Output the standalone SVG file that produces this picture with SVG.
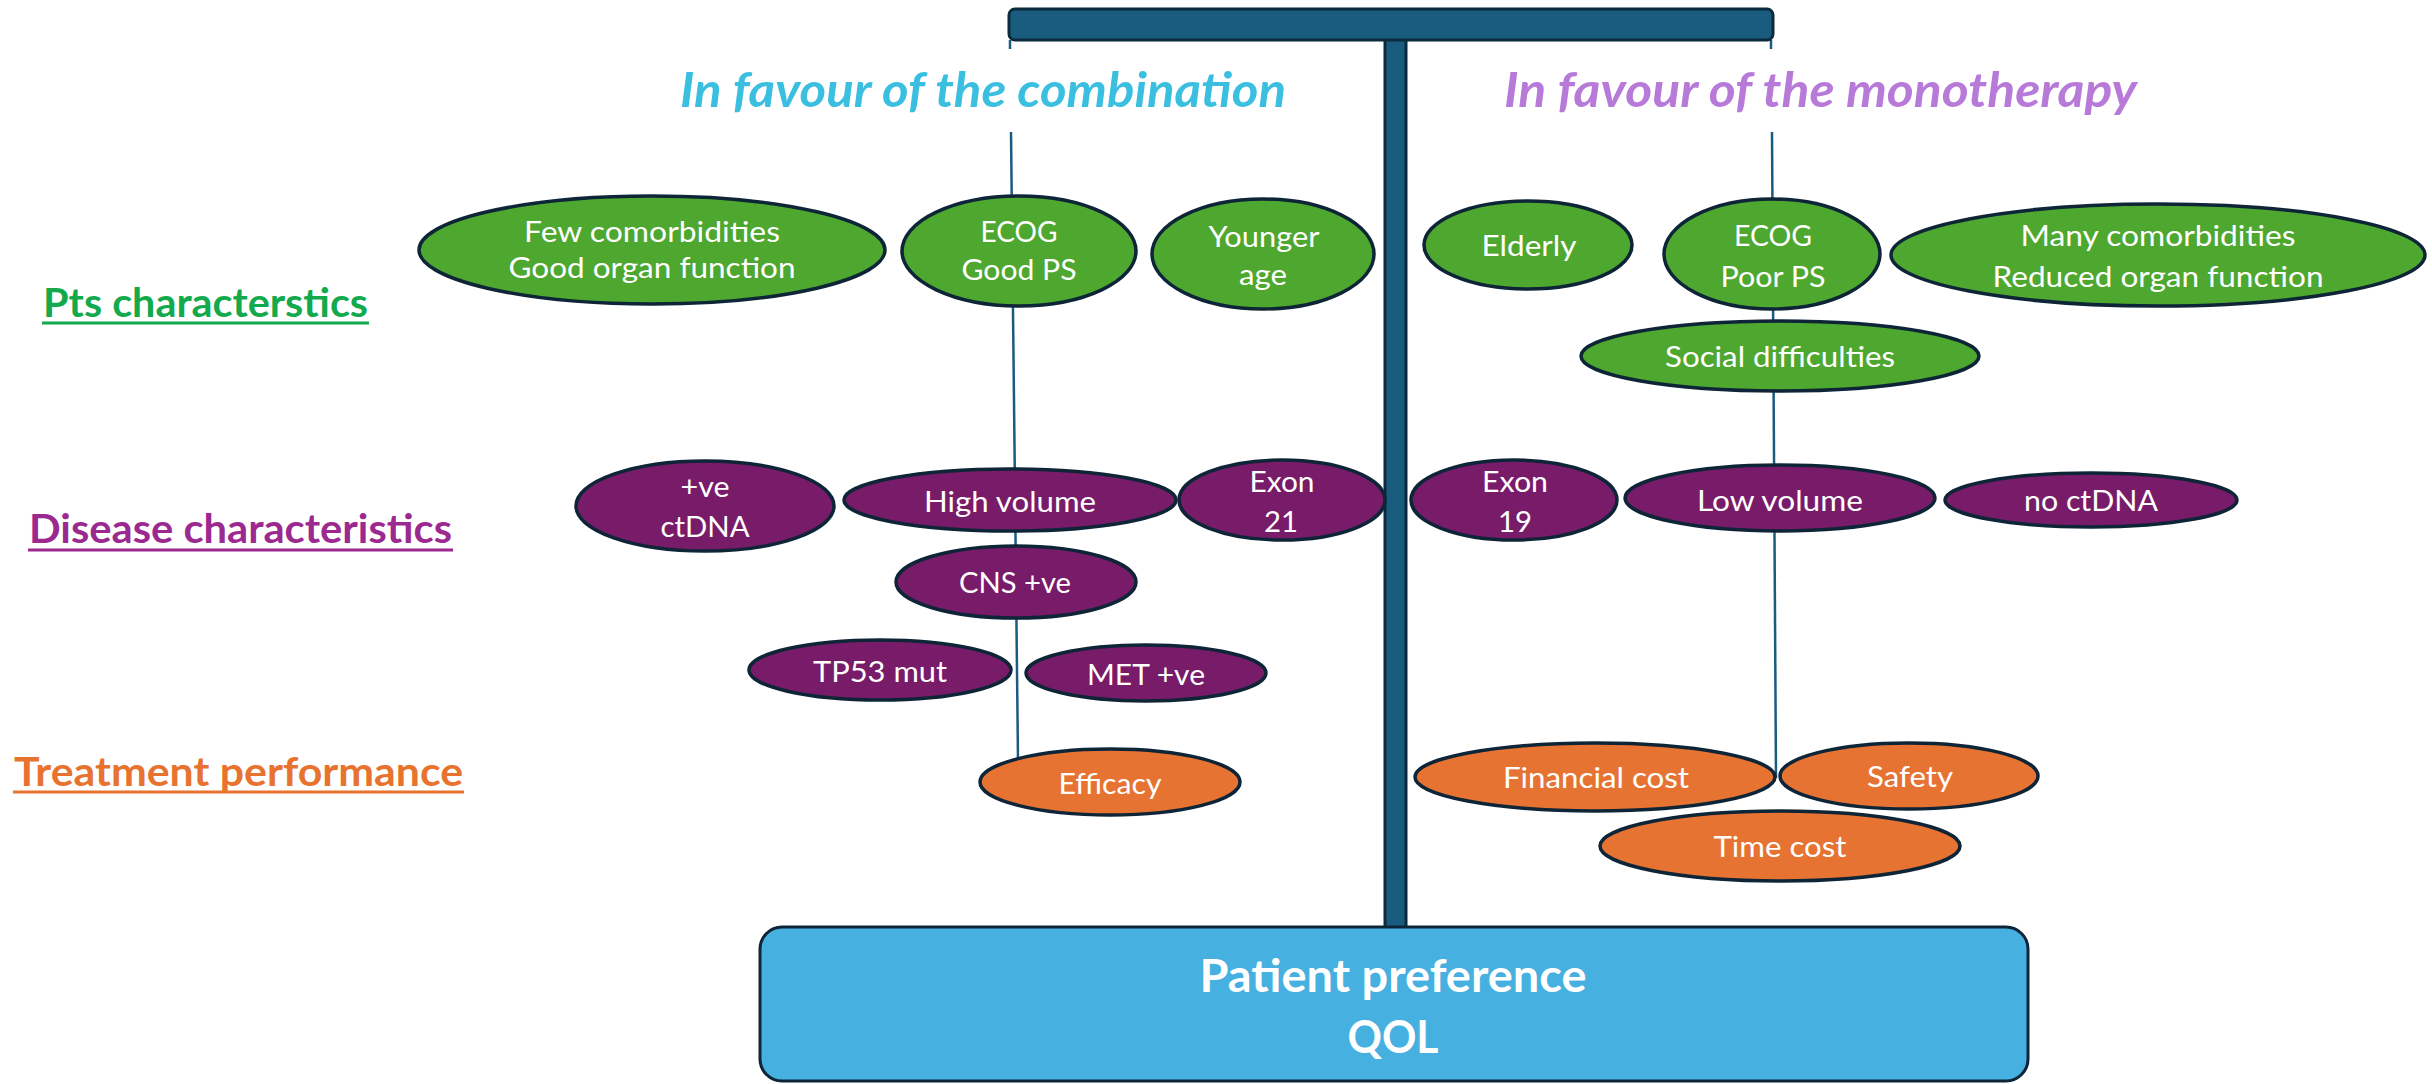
<svg xmlns="http://www.w3.org/2000/svg" width="2432" height="1084" viewBox="0 0 2432 1084">
<style>
.bg{fill:#ffffff}
.hang{stroke:#1a5b80;stroke-width:2.5;fill:none}
.beam{fill:#1a5b80;stroke:#0b2a3c;stroke-width:3}
.nd{stroke:#0e2538;stroke-width:3.5}
.g{fill:#4ea72e}
.p{fill:#781b68}
.o{fill:#e77332}
.t{font-family:Lato,"Open Sans","Liberation Sans",sans-serif;font-size:29px;fill:#ffffff;text-anchor:middle}
.title{font-family:Lato,"Open Sans","Liberation Sans",sans-serif;font-size:47px;font-weight:bold;font-style:italic}
.sec{font-family:Lato,"Open Sans","Liberation Sans",sans-serif;font-size:41px;font-weight:bold}
.big{font-family:Lato,"Open Sans","Liberation Sans",sans-serif;font-size:46px;font-weight:bold;fill:#ffffff;text-anchor:middle}
</style>
<rect class="bg" x="0" y="0" width="2432" height="1084"/>

<g id="connectors">
  <line class="hang" x1="1010" y1="40" x2="1010" y2="49"/>
  <line class="hang" x1="1011" y1="132" x2="1018" y2="760"/>
  <line class="hang" x1="1771" y1="40" x2="1771" y2="49"/>
  <line class="hang" x1="1772" y1="132" x2="1776" y2="778"/>
</g>

<g id="scale">
  <rect class="beam" x="1385" y="38" width="21" height="890"/>
  <rect class="beam" x="1009" y="9" width="764" height="31" rx="6"/>
</g>

<g id="titles">
  <text class="title" x="680" y="107" fill="#3bbfe0" textLength="606" lengthAdjust="spacingAndGlyphs">In favour of the combination</text>
  <text class="title" x="1504" y="107" fill="#b87ad8" textLength="633" lengthAdjust="spacingAndGlyphs">In favour of the monotherapy</text>
</g>

<g id="sections">
  <text class="sec" x="43" y="317" fill="#12aa4c" textLength="325" lengthAdjust="spacingAndGlyphs">Pts characterstics</text>
  <line x1="42" y1="323" x2="369" y2="323" stroke="#12aa4c" stroke-width="3"/>
  <text class="sec" x="29" y="543" fill="#9b2990" textLength="423" lengthAdjust="spacingAndGlyphs">Disease characteristics</text>
  <line x1="28" y1="550" x2="453" y2="550" stroke="#9b2990" stroke-width="3"/>
  <text class="sec" x="14" y="786" fill="#e8732f" textLength="449" lengthAdjust="spacingAndGlyphs">Treatment performance</text>
  <line x1="13" y1="792" x2="464" y2="792" stroke="#e8732f" stroke-width="3"/>
</g>

<g id="few-comorbidities">
  <ellipse class="nd g" cx="652" cy="250" rx="233" ry="54"/>
  <text class="t" x="652" y="242" textLength="256" lengthAdjust="spacingAndGlyphs">Few comorbidities</text>
  <text class="t" x="652" y="278" textLength="287" lengthAdjust="spacingAndGlyphs">Good organ function</text>
</g>
<g id="ecog-good">
  <ellipse class="nd g" cx="1019" cy="251" rx="117" ry="55"/>
  <text class="t" x="1019" y="242" textLength="77" lengthAdjust="spacingAndGlyphs">ECOG</text>
  <text class="t" x="1019" y="280" textLength="115" lengthAdjust="spacingAndGlyphs">Good PS</text>
</g>
<g id="younger-age">
  <ellipse class="nd g" cx="1263" cy="254" rx="111" ry="55"/>
  <text class="t" x="1264" y="247" textLength="111" lengthAdjust="spacingAndGlyphs">Younger</text>
  <text class="t" x="1263" y="285" textLength="48" lengthAdjust="spacingAndGlyphs">age</text>
</g>
<g id="elderly">
  <ellipse class="nd g" cx="1528" cy="245" rx="104" ry="44"/>
  <text class="t" x="1529" y="256" textLength="95" lengthAdjust="spacingAndGlyphs">Elderly</text>
</g>
<g id="ecog-poor">
  <ellipse class="nd g" cx="1772" cy="254" rx="108" ry="55"/>
  <text class="t" x="1773" y="246" textLength="78" lengthAdjust="spacingAndGlyphs">ECOG</text>
  <text class="t" x="1773" y="287" textLength="105" lengthAdjust="spacingAndGlyphs">Poor PS</text>
</g>
<g id="many-comorbidities">
  <ellipse class="nd g" cx="2158" cy="255" rx="267" ry="51"/>
  <text class="t" x="2158" y="246" textLength="275" lengthAdjust="spacingAndGlyphs">Many comorbidities</text>
  <text class="t" x="2158" y="287" textLength="331" lengthAdjust="spacingAndGlyphs">Reduced organ function</text>
</g>
<g id="social-difficulties">
  <ellipse class="nd g" cx="1780" cy="356" rx="199" ry="35"/>
  <text class="t" x="1780" y="367" textLength="230" lengthAdjust="spacingAndGlyphs">Social difficulties</text>
</g>

<g id="ve-ctdna">
  <ellipse class="nd p" cx="705" cy="506" rx="129" ry="45"/>
  <text class="t" x="705" y="497" textLength="49" lengthAdjust="spacingAndGlyphs">+ve</text>
  <text class="t" x="705" y="537" textLength="89" lengthAdjust="spacingAndGlyphs">ctDNA</text>
</g>
<g id="high-volume">
  <ellipse class="nd p" cx="1010" cy="500" rx="166" ry="31"/>
  <text class="t" x="1010" y="512" textLength="172" lengthAdjust="spacingAndGlyphs">High volume</text>
</g>
<g id="exon-21">
  <ellipse class="nd p" cx="1282" cy="500" rx="103" ry="40"/>
  <text class="t" x="1282" y="492" textLength="65" lengthAdjust="spacingAndGlyphs">Exon</text>
  <text class="t" x="1281" y="532" textLength="34" lengthAdjust="spacingAndGlyphs">21</text>
</g>
<g id="cns">
  <ellipse class="nd p" cx="1016" cy="582" rx="120" ry="36"/>
  <text class="t" x="1015" y="593" textLength="112" lengthAdjust="spacingAndGlyphs">CNS +ve</text>
</g>
<g id="tp53">
  <ellipse class="nd p" cx="880" cy="670" rx="131" ry="30"/>
  <text class="t" x="880" y="682" textLength="134" lengthAdjust="spacingAndGlyphs">TP53 mut</text>
</g>
<g id="met">
  <ellipse class="nd p" cx="1146" cy="673" rx="120" ry="28"/>
  <text class="t" x="1146" y="685" textLength="118" lengthAdjust="spacingAndGlyphs">MET +ve</text>
</g>
<g id="exon-19">
  <ellipse class="nd p" cx="1514" cy="500" rx="103" ry="40"/>
  <text class="t" x="1515" y="492" textLength="66" lengthAdjust="spacingAndGlyphs">Exon</text>
  <text class="t" x="1515" y="532" textLength="34" lengthAdjust="spacingAndGlyphs">19</text>
</g>
<g id="low-volume">
  <ellipse class="nd p" cx="1780" cy="498" rx="155" ry="33"/>
  <text class="t" x="1780" y="511" textLength="166" lengthAdjust="spacingAndGlyphs">Low volume</text>
</g>
<g id="no-ctdna">
  <ellipse class="nd p" cx="2091" cy="500" rx="146" ry="27"/>
  <text class="t" x="2091" y="511" textLength="134" lengthAdjust="spacingAndGlyphs">no ctDNA</text>
</g>

<g id="efficacy">
  <ellipse class="nd o" cx="1110" cy="782" rx="130" ry="33"/>
  <text class="t" x="1110" y="794" textLength="103" lengthAdjust="spacingAndGlyphs">Efficacy</text>
</g>
<g id="financial-cost">
  <ellipse class="nd o" cx="1595" cy="777" rx="180" ry="34"/>
  <text class="t" x="1596" y="788" textLength="186" lengthAdjust="spacingAndGlyphs">Financial cost</text>
</g>
<g id="safety">
  <ellipse class="nd o" cx="1909" cy="776" rx="129" ry="33"/>
  <text class="t" x="1910" y="787" textLength="86" lengthAdjust="spacingAndGlyphs">Safety</text>
</g>
<g id="time-cost">
  <ellipse class="nd o" cx="1780" cy="846" rx="180" ry="35"/>
  <text class="t" x="1780" y="857" textLength="133" lengthAdjust="spacingAndGlyphs">Time cost</text>
</g>

<g id="patient-preference">
  <rect x="760" y="927" width="1268" height="154" rx="22" fill="#46b0e0" stroke="#0e2538" stroke-width="3"/>
  <text class="big" x="1393" y="992" textLength="387" lengthAdjust="spacingAndGlyphs">Patient preference</text>
  <text class="big" x="1393" y="1053" textLength="91" lengthAdjust="spacingAndGlyphs">QOL</text>
</g>
</svg>
